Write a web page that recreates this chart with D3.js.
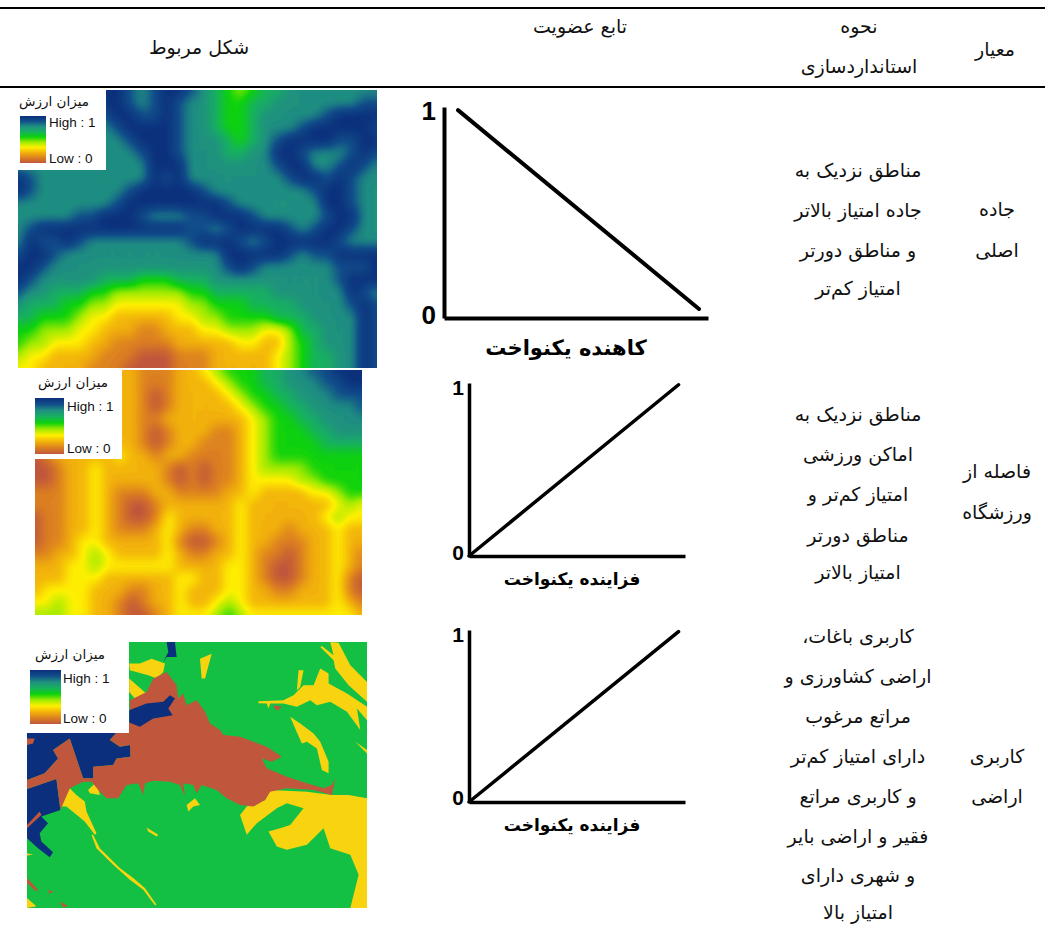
<!DOCTYPE html>
<html lang="fa">
<head>
<meta charset="utf-8">
<script src="https://cdn.jsdelivr.net/npm/d3@7"></script>
<style>
html, body { margin: 0; padding: 0; background: #fff; }
svg { display: block; }
text { font-family: "DejaVu Sans", sans-serif; fill: #111; }
.body { font-size: 19px; direction: rtl; text-anchor: middle; }
.latin { font-family: "Liberation Sans", Arial, sans-serif; }
</style>
</head>
<body>
<div id="chart"></div>
<script>
// table text
const headers = ["معیار", "شکل مربوط", "تابع عضویت"];
const headerStandard = ["نحوه", "استانداردسازی"];
const criteria = [["جاده", "اصلی"], ["فاصله از", "ورزشگاه"], ["کاربری", "اراضی"]];
const rules = [
    ["مناطق نزدیک به", "جاده امتیاز بالاتر", "و مناطق دورتر", "امتیاز کم‌تر"],
    ["مناطق نزدیک به", "اماکن ورزشی", "امتیاز کم‌تر و", "مناطق دورتر", "امتیاز بالاتر"],
    ["کاربری باغات،", "اراضی کشاورزی و", "مراتع مرغوب", "دارای امتیاز کم‌تر", "و کاربری مراتع", "فقیر و اراضی بایر", "و شهری دارای", "امتیاز بالا"]
];
const functionNames = ["کاهنده یکنواخت", "فزاینده یکنواخت", "فزاینده یکنواخت"];
const legendTitle = "میزان ارزش";
const legendHigh = "High : 1";
const legendLow = "Low : 0";

// membership lines, [x, y] in 0-1 units
const decreasingLine = [[0.053, 0.985], [0.966, 0.043]];
const increasingLine = [[0, 0], [0.97, 0.99]];
const axisTicks = [0, 1];

// colour ramp of the maps, low to high
const rampColours = ["#c0563c", "#dc8020", "#f2b30a", "#fff000", "#9eea00", "#0cd20c", "#17b060", "#1f9080", "#114e8a", "#0b2f7c"];

// value, 0 (low) to 9 (high), one string per row
const roadGrid = [
    "77777 77998 78998 76545 66777 77777",
    "77777 77998 78987 76556 67777 77788",
    "77777 77899 88987 76556 77777 89999",
    "77777 77789 99987 76556 77789 99998",
    "77777 77778 99987 77656 78999 98899",
    "77777 77777 89987 77667 79987 77898",
    "77777 77777 79997 77777 78997 78987",
    "98777 77777 79897 77777 77899 89877",
    "98777 77778 99999 87777 77778 99877",
    "77777 77789 99999 99877 77777 99877",
    "77777 88999 87778 89998 77777 89977",
    "78999 99999 99998 87899 99878 99877",
    "79889 87777 77778 99987 89999 98777",
    "89987 77777 77777 77999 99878 89999",
    "99877 77777 77777 77898 77777 78889",
    "98777 77666 55566 67777 77777 78999",
    "87766 65544 44445 56666 67777 77987",
    "76665 54433 33334 45556 66677 77898",
    "66555 43322 22233 44555 56667 77798",
    "55444 33222 11222 33444 33466 77798",
    "54433 32211 11122 22233 22456 77798",
    "43322 22111 00011 12222 23456 67798",
    "33222 21110 00011 12222 23456 67798"
];

// value
const stadiumGrid = [
    "2222222 2211122 3455566 7788999",
    "2222222 2211122 2345566 7778899",
    "2222222 2210122 2234556 6777888",
    "2222222 2210122 2223455 6677778",
    "2222222 2211222 2222345 5667777",
    "2222222 2210122 2112345 5566777",
    "2222222 2210122 1112345 5556666",
    "0122222 3221221 1112345 5555555",
    "0012232 2222101 0112344 4455555",
    "0012232 2222101 0112333 3445555",
    "1112232 1112211 1122322 2233455",
    "1112232 1001222 2223222 2222343",
    "0112232 1001322 2223222 2223433",
    "0112232 1112321 1223222 1222322",
    "0112332 2222310 0123221 1122322",
    "1122343 2222321 1223211 0122321",
    "2223343 3333322 2233210 0122321",
    "2223332 2222233 2233210 0122310",
    "2333322 2112232 2233221 1222310",
    "3343322 1012232 2343222 2222321",
    "4443322 1001233 3454333 3333332"
];

// land use regions, outlines in its own 1050x840 units
const yellowRegions = [
    [[328,85],[360,85],[395,70],[435,85],[430,110],[410,130],[385,120],[330,105]],
    [[328,130],[385,180],[350,195],[328,170]],
    [[540,70],[575,55],[555,130],[545,130]],
    [[930,20],[955,22],[990,90],[1040,140],[1040,200],[985,150],[945,100],[940,75],[900,35],[905,32],[940,60]],
    [[715,198],[790,195],[820,180],[850,150],[880,150],[900,100],[925,115],[925,145],[980,175],[1040,215],[1040,255],[1010,220],[1020,285],[980,230],[930,200],[890,210],[870,195],[830,215],[790,205],[750,205],[745,220],[740,205],[715,204]],
    [[835,105],[850,105],[840,155],[830,165]],
    [[1005,320],[1040,345],[1040,355]],
    [[810,245],[840,265],[880,295],[900,320],[925,380],[925,415],[905,405],[890,340],[860,320],[845,325],[825,280]],
    [[750,465],[860,470],[935,480],[985,480],[1040,490],[1040,820],[990,820],[1015,720],[990,660],[930,640],[910,580],[860,630],[800,645],[770,635],[745,590],[780,580],[810,570],[850,520],[800,505],[770,520],[710,565],[680,600],[660,540],[680,515],[735,495]],
    [[140,480],[150,460],[170,480],[195,500],[200,530],[230,595],[225,600],[195,560],[140,515],[125,515]],
    [[220,600],[240,640],[300,700],[340,730],[375,760],[410,810],[405,812],[370,765],[330,735],[280,690],[230,640],[215,600]],
    [[205,465],[230,440],[240,480],[210,475]],
    [[500,510],[525,490],[540,510],[520,515],[505,530]],
    [[380,578],[415,600],[410,605],[385,590]],
    [[22,790],[50,815],[22,820]],
    [[22,655],[40,660],[22,662]]
];
const navyRegions = [
    [[22,292],[290,292],[270,315],[300,335],[330,330],[332,365],[290,370],[280,390],[220,395],[220,430],[190,430],[150,310],[100,345],[115,370],[75,415],[22,435]],
    [[22,462],[110,432],[122,525],[65,545],[85,565],[60,595],[65,620],[100,652],[90,667],[55,640],[22,610]],
    [[440,20],[465,20],[470,65],[440,65],[430,80],[445,50]]
];
const brickRegions = [
    [[330,195],[380,170],[400,130],[440,110],[470,150],[475,190],[490,175],[500,210],[530,195],[555,230],[570,265],[600,285],[610,300],[660,305],[700,320],[740,335],[785,365],[755,380],[725,370],[740,400],[800,425],[860,445],[910,460],[935,450],[945,430],[935,480],[880,465],[800,460],[750,470],[735,495],[700,515],[660,510],[620,490],[590,465],[545,450],[530,475],[520,450],[490,445],[495,485],[480,450],[450,440],[400,437],[375,445],[370,480],[355,445],[320,450],[295,490],[260,490],[240,470],[215,440],[190,440],[150,460],[122,525],[110,432],[22,462],[22,435],[75,415],[115,370],[100,345],[150,310],[190,430],[220,430],[220,395],[280,390],[290,370],[332,365],[330,330],[300,335],[270,315],[290,292],[330,262]],
    [[22,570],[60,530],[65,540],[22,580]],
    [[22,310],[45,310],[40,325],[22,330]],
    [[22,730],[55,765],[50,770],[22,745]],
    [[85,765],[100,770],[90,778]],
    [[120,800],[145,815],[130,818]],
    [[760,210],[785,215],[775,225],[765,222]]
];
// this one sits on top of the brick area
const upperNavyRegions = [
    [[328,225],[380,205],[430,200],[450,180],[465,190],[445,220],[458,240],[400,250],[360,275],[328,262]]
];

const width = 1045, height = 927;
const svg = d3.select("#chart").append("svg").attr("width", width).attr("height", height);
const defs = svg.append("defs");

const ramp = d3.scaleLinear().domain(d3.range(rampColours.length)).range(rampColours).clamp(true);

const legendGradient = defs.append("linearGradient").attr("id", "legendRamp")
    .attr("x1", 0).attr("y1", 1).attr("x2", 0).attr("y2", 0);
legendGradient.selectAll("stop").data(rampColours).join("stop")
    .attr("offset", (d, i) => i / (rampColours.length - 1))
    .attr("stop-color", d => d);

// finer raster of the read values so the contours come out round
function parseGrid(rows, k) {
    let cells = rows.map(r => r.replace(/ /g, "").split("").map(Number));
    let n0 = cells[0].length, m0 = cells.length;
    let n = (n0 - 1) * k + 1, m = (m0 - 1) * k + 1;
    let values = new Float64Array(n * m);
    for (let j = 0; j < m; j++) {
        let fy = j / k, y0 = Math.min(Math.floor(fy), m0 - 2), ty = fy - y0;
        for (let i = 0; i < n; i++) {
            let fx = i / k, x0 = Math.min(Math.floor(fx), n0 - 2), tx = fx - x0;
            values[j * n + i] =
                (cells[y0][x0] * (1 - tx) + cells[y0][x0 + 1] * tx) * (1 - ty) +
                (cells[y0 + 1][x0] * (1 - tx) + cells[y0 + 1][x0 + 1] * tx) * ty;
        }
    }
    d3.blur2({ data: values, width: n, height: m }, k * 0.25);
    return { n, m, values };
}

function clipFor(id, box) {
    defs.append("clipPath").attr("id", id).append("rect")
        .attr("x", box.x).attr("y", box.y).attr("width", box.w).attr("height", box.h);
}

function drawHeatMap(id, rows, box) {
    let grid = parseGrid(rows, 4);
    let sx = d3.scaleLinear().domain([0.5, grid.n - 0.5]).range([box.x, box.x + box.w]);
    let sy = d3.scaleLinear().domain([0.5, grid.m - 0.5]).range([box.y, box.y + box.h]);
    let path = d3.geoPath(d3.geoTransform({
        point(x, y) { this.stream.point(sx(x), sy(y)); }
    }));
    let levels = d3.range(0.1, 9.01, 0.1);
    let contours = d3.contours().size([grid.n, grid.m]).thresholds(levels)(grid.values);
    clipFor(id, box);
    let g = svg.append("g").attr("clip-path", `url(#${id})`);
    g.append("rect")
        .attr("x", box.x).attr("y", box.y)
        .attr("width", box.w).attr("height", box.h)
        .attr("fill", ramp(0));
    g.selectAll("path").data(contours).join("path")
        .attr("d", path)
        .attr("fill", d => ramp(d.value + 0.05));
}

function drawLandUse(id, box) {
    let sx = d3.scaleLinear().domain([22, 1040]).range([box.x, box.x + box.w]);
    let sy = d3.scaleLinear().domain([20, 820]).range([box.y, box.y + box.h]);
    let outline = d3.line().x(d => sx(d[0])).y(d => sy(d[1])).curve(d3.curveLinearClosed);
    clipFor(id, box);
    let g = svg.append("g").attr("clip-path", `url(#${id})`);
    g.append("rect").attr("x", box.x).attr("y", box.y)
        .attr("width", box.w).attr("height", box.h).attr("fill", "#14c044");
    g.selectAll("path.yellow").data(yellowRegions).join("path").attr("class", "yellow")
        .attr("d", outline).attr("fill", "#f8d410");
    g.selectAll("path.navy").data(navyRegions).join("path").attr("class", "navy")
        .attr("d", outline).attr("fill", "#0b2f7c");
    g.selectAll("path.brick").data(brickRegions).join("path").attr("class", "brick")
        .attr("d", outline).attr("fill", "#c0563c");
    g.selectAll("path.upper").data(upperNavyRegions).join("path").attr("class", "upper")
        .attr("d", outline).attr("fill", "#0b2f7c");
}

function drawLegend(l) {
    let g = svg.append("g");
    g.append("rect").attr("x", l.x).attr("y", l.y).attr("width", l.w).attr("height", l.h).attr("fill", "#fff");
    g.append("rect").attr("x", l.barX).attr("y", l.barY).attr("width", l.barW).attr("height", l.barH)
        .attr("fill", "url(#legendRamp)");
    g.append("text").attr("x", l.titleX).attr("y", l.titleY)
        .attr("text-anchor", "middle").style("direction", "rtl")
        .attr("font-size", 13.5).text(legendTitle);
    g.append("text").attr("class", "latin").attr("x", l.textX).attr("y", l.highY)
        .attr("font-size", 13.5).text(legendHigh);
    g.append("text").attr("class", "latin").attr("x", l.textX).attr("y", l.lowY)
        .attr("font-size", 13.5).text(legendLow);
}

function drawFunction(line, p) {
    let x = d3.scaleLinear().domain([0, 1]).range([p.x0, p.x1]);
    let y = d3.scaleLinear().domain([0, 1]).range([p.y0, p.y1]);
    let g = svg.append("g");
    let axis = d3.axisLeft(y).tickValues(axisTicks).tickSize(0).tickPadding(p.pad).tickFormat(d3.format("d"));
    let gy = g.append("g").attr("transform", `translate(${p.x0},0)`).call(axis);
    g.append("g").attr("transform", `translate(0,${p.y0})`).call(d3.axisBottom(x).tickValues([]).tickSize(0));
    g.selectAll(".domain").attr("stroke", "#000").attr("stroke-width", p.sw);
    gy.selectAll("text").attr("class", "latin")
        .attr("y", d => d ? p.shift1 : p.shift0)
        .attr("font-size", p.tick).attr("font-weight", "bold").style("fill", "#000");
    g.append("path").datum(line)
        .attr("d", d3.line().x(d => x(d[0])).y(d => y(d[1])))
        .attr("fill", "none").attr("stroke", "#000").attr("stroke-width", p.sw).attr("stroke-linecap", "round");
    g.append("text").attr("x", p.labelX).attr("y", p.labelY)
        .attr("text-anchor", "middle").style("direction", "rtl").style("fill", "#000")
        .attr("font-weight", "bold").attr("font-size", p.label)
        .text(p.name);
}

function drawLines(lines, cx, ys) {
    svg.append("g").selectAll("text").data(lines).join("text")
        .attr("class", "body").attr("x", cx).attr("y", (d, i) => ys[i]).text(d => d);
}

// maps
drawHeatMap("clipRoad", roadGrid, { x: 18, y: 90, w: 359, h: 278 });
drawHeatMap("clipStadium", stadiumGrid, { x: 35, y: 370, w: 327, h: 245 });
drawLandUse("clipLand", { x: 27, y: 642, w: 340, h: 266 });

drawLegend({ x: 18, y: 90, w: 88, h: 80, barX: 20, barY: 116, barW: 26, barH: 47, titleX: 54, titleY: 106, textX: 49, highY: 127, lowY: 163 });
drawLegend({ x: 34, y: 370, w: 88, h: 89, barX: 35, barY: 398, barW: 29, barH: 56, titleX: 73, titleY: 387, textX: 67, highY: 411, lowY: 453 });
drawLegend({ x: 27, y: 642, w: 102, h: 91, barX: 30, barY: 670, barW: 31, barH: 54, titleX: 70, titleY: 659, textX: 63, highY: 683, lowY: 723 });

// membership functions
drawFunction(decreasingLine, { x0: 444, x1: 708, y0: 318, y1: 107, sw: 4, tick: 26, pad: 8, shift0: -3, shift1: 4, label: 21, labelX: 566, labelY: 355, name: functionNames[0] });
drawFunction(increasingLine, { x0: 469, x1: 685, y0: 556, y1: 383, sw: 3.5, tick: 21, pad: 5, shift0: -3, shift1: 5, label: 17, labelX: 572, labelY: 585, name: functionNames[1] });
drawFunction(increasingLine, { x0: 469, x1: 685, y0: 802, y1: 630, sw: 3.5, tick: 21, pad: 5, shift0: -4, shift1: 5, label: 17, labelX: 572, labelY: 831, name: functionNames[2] });

// table rules
svg.selectAll("line.rule").data([8, 87]).join("line").attr("class", "rule")
    .attr("x1", 0).attr("x2", width).attr("y1", d => d).attr("y2", d => d)
    .attr("stroke", "#000").attr("stroke-width", 2);

// table text
drawLines([headers[0]], 995, [56]);
drawLines([headers[1]], 199, [54]);
drawLines([headers[2]], 580, [33]);
drawLines(headerStandard, 859, [33, 73]);
drawLines(criteria[0], 997, [216, 257]);
drawLines(criteria[1], 997, [478, 519]);
drawLines(criteria[2], 997, [763, 803]);
drawLines(rules[0], 858, [177, 217, 257, 295]);
drawLines(rules[1], 858, [421, 461, 501, 542, 579]);
drawLines(rules[2], 858, [643, 683, 723, 763, 803, 843, 882, 919]);
</script>
</body>
</html>
